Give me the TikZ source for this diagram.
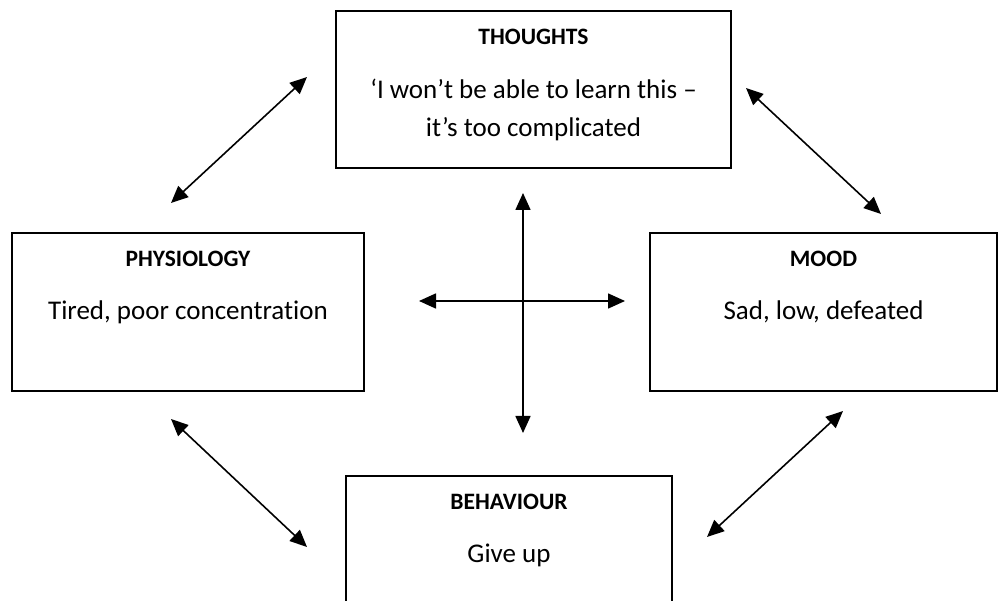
\documentclass[tikz,border=0pt]{standalone}
\usepackage{fontspec}
\setmainfont{Carlito}[Ligatures={TeX,NoCommon}]
\usetikzlibrary{arrows.meta}
\begin{document}
\begin{tikzpicture}[x=1pt,y=-1pt,
  boxnode/.style={draw, line width=1.8pt, inner sep=0pt},
  titletext/.style={anchor=base, inner sep=0pt, font=\fontsize{23.5}{28}\selectfont\bfseries},
  bodytext/.style={anchor=base, inner sep=0pt, font=\fontsize{27}{32}\selectfont},
  dbl/.style={line width=1.6pt, {Triangle[length=17pt,width=15pt]}-{Triangle[length=17pt,width=15pt]}}
]
\useasboundingbox[fill=white] (0,0) rectangle (999,601);

% boxes
\node[boxnode, minimum width=395pt, minimum height=157pt] (th) at (533.5,89.5) {};
\node[boxnode, minimum width=352pt, minimum height=158pt] (ph) at (188,312) {};
\node[boxnode, minimum width=347pt, minimum height=158pt] (md) at (823.5,312) {};
\begin{scope}
\clip (0,0) rectangle (999,601);
\node[boxnode, minimum width=326pt, minimum height=158pt] (bh) at (509,555) {};
\end{scope}

% texts
\node[titletext] (tht) at ([yshift=-34pt]th.north) {THOUGHTS};
\node[bodytext] (thb1) at ([yshift=-88pt]th.north) {‘I won’t be able to learn this –};
\node[bodytext] (thb2) at ([yshift=-126pt]th.north) {it’s too complicated};

\node[titletext] (pht) at ([yshift=-34pt]ph.north) {PHYSIOLOGY};
\node[bodytext] (phb) at ([yshift=-87pt]ph.north) {Tired, poor concentration};

\node[titletext] (mdt) at ([yshift=-34pt]md.north) {MOOD};
\node[bodytext] (mdb) at ([yshift=-87pt]md.north) {Sad, low, defeated};

\node[titletext] (bht) at ([yshift=-34pt]bh.north) {BEHAVIOUR};
\node[bodytext] (bhb) at ([yshift=-87pt]bh.north) {Give up};

% arrow end points
\coordinate (a1) at (171,203); \coordinate (a2) at (307,77);
\coordinate (b1) at (746,88);  \coordinate (b2) at (881,214);
\coordinate (c1) at (171,419); \coordinate (c2) at (307,547);
\coordinate (d1) at (707,537); \coordinate (d2) at (843,411);
\coordinate (v1) at (523,193); \coordinate (v2) at (523,433);
\coordinate (h1) at (419,301); \coordinate (h2) at (625,301);

\draw[dbl] (a1) -- (a2);
\draw[dbl] (b1) -- (b2);
\draw[dbl] (c1) -- (c2);
\draw[dbl] (d1) -- (d2);
\draw[dbl] (v1) -- (v2);
\draw[dbl] (h1) -- (h2);
\end{tikzpicture}
\end{document}
